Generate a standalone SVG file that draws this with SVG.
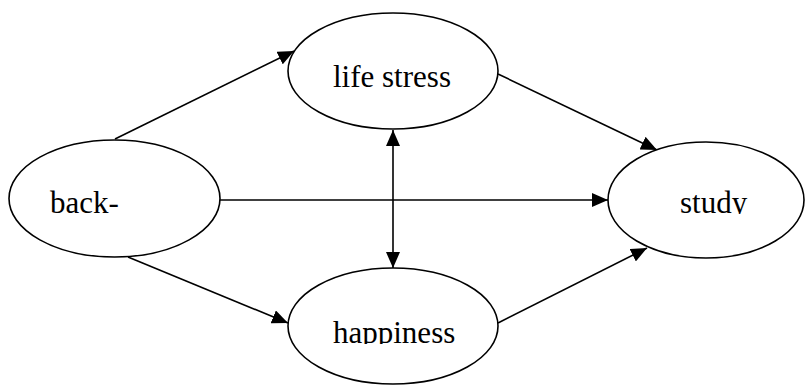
<svg xmlns="http://www.w3.org/2000/svg" width="807" height="385" viewBox="0 0 807 385">
  <style>
    .node ellipse { fill: #ffffff; stroke: #000000; stroke-width: 1.6; }
    .node text { font-family: "Liberation Serif", "Times New Roman", serif; font-size: 31px; fill: #000000; }
    .edge { stroke: #000000; stroke-width: 1.6; fill: none; }
  </style>
  <defs>
    <marker id="arrow" markerUnits="userSpaceOnUse" markerWidth="16" markerHeight="14" viewBox="0 0 16 14" refX="16" refY="7" orient="auto-start-reverse">
      <path d="M0,0 L16,7 L0,14 Z" fill="#000000"/>
    </marker>
    <clipPath id="clipHap"><rect x="0" y="0" width="807" height="344"/></clipPath>
    <clipPath id="clipStudy"><rect x="0" y="0" width="807" height="214"/></clipPath>
  </defs>
  <rect x="0" y="0" width="807" height="385" fill="#ffffff"/>
  <g id="connectors">
    <line class="edge" x1="115" y1="139" x2="294" y2="51" marker-end="url(#arrow)"/>
    <line class="edge" x1="498" y1="74" x2="657" y2="150" marker-end="url(#arrow)"/>
    <line class="edge" x1="220" y1="200" x2="608" y2="200" marker-end="url(#arrow)"/>
    <line class="edge" x1="128" y1="257" x2="288" y2="323" marker-end="url(#arrow)"/>
    <line class="edge" x1="498" y1="323" x2="647" y2="248" marker-end="url(#arrow)"/>
    <line class="edge" x1="393" y1="130" x2="393" y2="268" marker-start="url(#arrow)" marker-end="url(#arrow)"/>
  </g>
  <g id="node-back" class="node">
    <ellipse cx="114.5" cy="198.5" rx="105.5" ry="58.5"/>
    <text x="50" y="213">back-</text>
  </g>
  <g id="node-life-stress" class="node">
    <ellipse cx="393" cy="71" rx="105" ry="58"/>
    <text x="333" y="87">life stress</text>
  </g>
  <g id="node-happiness" class="node">
    <ellipse cx="393" cy="326" rx="105" ry="58"/>
    <text x="333" y="343" clip-path="url(#clipHap)">happiness</text>
  </g>
  <g id="node-study" class="node">
    <ellipse cx="706" cy="200" rx="98" ry="58"/>
    <text x="680" y="213" clip-path="url(#clipStudy)">study</text>
  </g>
</svg>
